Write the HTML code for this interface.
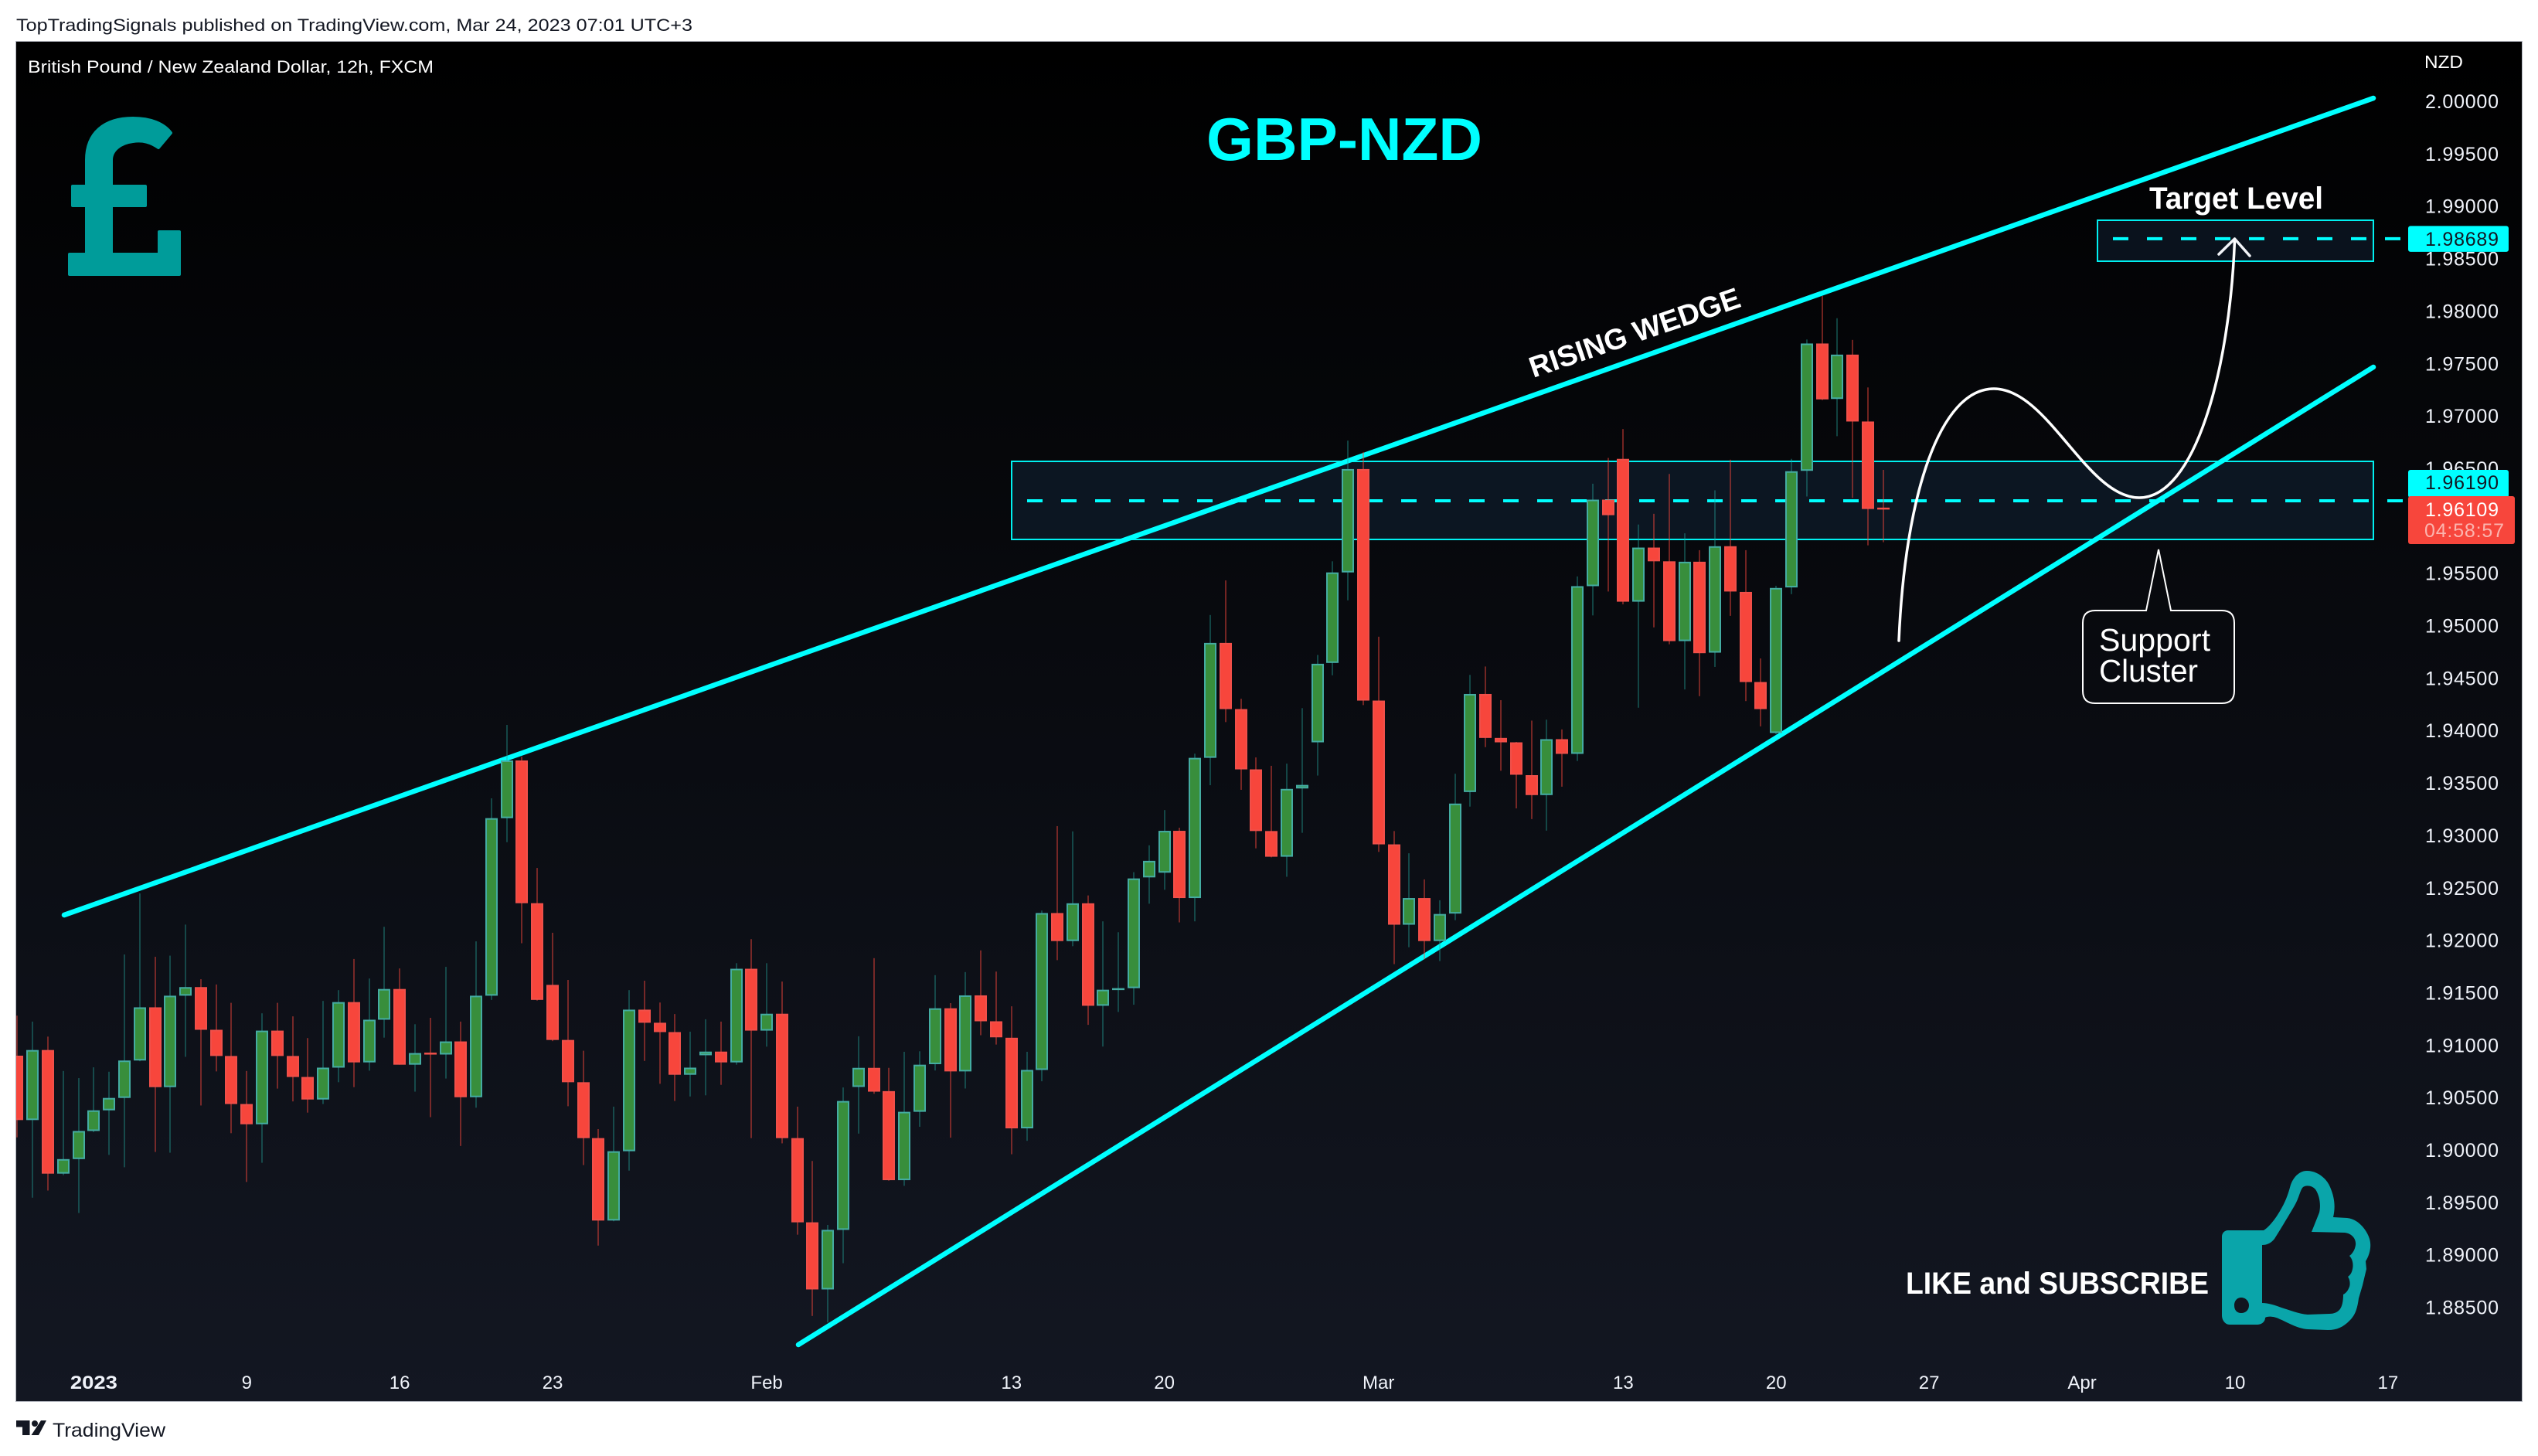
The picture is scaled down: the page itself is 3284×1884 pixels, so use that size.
<!DOCTYPE html>
<html lang="en">
<head>
<meta charset="utf-8">
<title>GBP-NZD Rising Wedge</title>
<style>
html,body{margin:0;padding:0;background:#fff;width:3284px;height:1884px;overflow:hidden}
svg{position:absolute;left:0;top:0;display:block}
text{font-family:"Liberation Sans",sans-serif}
</style>
</head>
<body>
<svg id="chart" xmlns="http://www.w3.org/2000/svg" width="3284" height="1884" viewBox="0 0 3284 1884">
  <defs>
    <linearGradient id="paneBg" x1="0" y1="0" x2="0" y2="1">
      <stop offset="0" stop-color="#000000"/>
      <stop offset="1" stop-color="#131722"/>
    </linearGradient>
    <clipPath id="plotClip"><rect x="21" y="54" width="3242" height="1759"/></clipPath>
  </defs>

  <text x="21" y="40" font-size="22" fill="#131722" textLength="875" lengthAdjust="spacingAndGlyphs">TopTradingSignals published on TradingView.com, Mar 24, 2023 07:01 UTC+3</text>

  <rect x="20.5" y="53.5" width="3243" height="1760" fill="url(#paneBg)" stroke="#b2b5be" stroke-width="1"/>

  <text x="36" y="94" font-size="22" fill="#ffffff" textLength="525" lengthAdjust="spacingAndGlyphs">British Pound / New Zealand Dollar, 12h, FXCM</text>
  <text x="1561" y="207" font-size="78" font-weight="700" fill="#00ffff" textLength="357" lengthAdjust="spacingAndGlyphs">GBP-NZD</text>

  <path fill="#009c9a" stroke="#009c9a" stroke-width="4" stroke-linejoin="round" d="M112,241 L112,207 C112,172 135,153 172,153 C195,153 212,160 221,172 L205,191 C195,184 185,181 172,183 C155,185 144,195 144,207 L144,241 L188,241 L188,266 L144,266 L144,329 L206,329 L206,300 L232,300 L232,355 L90,355 L90,329 L112,329 L112,266 L94,266 L94,241 Z"/>

  <g id="zones" clip-path="url(#plotClip)">
    <rect x="1309" y="597" width="1762" height="101" fill="#0c1622" stroke="#00f0f0" stroke-width="2"/>
    <rect x="2714" y="285" width="357" height="53" fill="#0a121d" stroke="#00f0f0" stroke-width="2"/>
  </g>
  <g id="level-lines"></g>

  <line x1="83" y1="1184" x2="3071" y2="127" stroke="#00ffff" stroke-width="6.5" stroke-linecap="round"/>
  <line x1="1033" y1="1740" x2="3071" y2="475" stroke="#00ffff" stroke-width="6.5" stroke-linecap="round"/>

  <g id="candles" clip-path="url(#plotClip)"></g>

  <path d="M2457,829 C2465,640 2510,503 2580,503 C2650,503 2700,644 2768,644 C2840,644 2885,480 2891.5,311" fill="none" stroke="#ffffff" stroke-width="3.5" stroke-linecap="round"/>
  <path d="M2871,329 L2891.5,309 L2911,331" fill="none" stroke="#f2f4f8" stroke-width="3.5" stroke-linecap="round" stroke-linejoin="round"/>

  <text transform="translate(1984 489) rotate(-18.9)" font-size="38" font-weight="700" fill="#ffffff" textLength="286" lengthAdjust="spacingAndGlyphs">RISING WEDGE</text>
  <text x="2781" y="270" font-size="40" font-weight="700" fill="#ffffff" textLength="225" lengthAdjust="spacingAndGlyphs">Target Level</text>

  <path d="M2711,790 L2777,790 L2793,711 L2809,790 L2875,790 Q2891,790 2891,806 L2891,894 Q2891,910 2875,910 L2711,910 Q2695,910 2695,894 L2695,806 Q2695,790 2711,790 Z" fill="none" stroke="#ffffff" stroke-width="2"/>
  <text x="2716" y="842" font-size="41" fill="#ffffff" textLength="144" lengthAdjust="spacingAndGlyphs">Support</text>
  <text x="2716" y="882" font-size="41" fill="#ffffff" textLength="128" lengthAdjust="spacingAndGlyphs">Cluster</text>

  <text x="2466" y="1674" font-size="40" font-weight="700" fill="#ffffff" textLength="392" lengthAdjust="spacingAndGlyphs">LIKE and SUBSCRIBE</text>
  <path fill="#0aa5aa" fill-rule="evenodd" d="M2883,1592 L2929,1592 C2940,1585 2950,1568 2955,1558 C2960,1548 2962,1540 2964,1533 C2968,1522 2976,1515 2985,1515 C2998,1515 3010,1524 3015,1536 C3021,1550 3022,1562 3019,1575 L3037,1576 C3050,1577 3062,1590 3066,1603 C3069,1613 3066,1624 3061,1632 L3062,1642 L3057,1663 L3052,1680 C3050,1695 3047,1702 3040,1709 C3032,1717 3024,1721 3012,1721 L2986,1720 C2972,1719 2960,1711 2950,1707 C2942,1703 2934,1703 2931,1705 C2931,1709 2928,1714 2920,1714 L2885,1714 C2879,1714 2875,1708 2875,1702 L2875,1600 C2875,1596 2878,1592 2883,1592 Z M2927,1611 C2934,1611 2939,1608 2943,1603 C2950,1592 2962,1572 2969,1560 C2975,1550 2976,1540 2980,1536 C2984,1533 2992,1534 2996,1539 C3002,1548 3003,1560 3001,1569 L2991,1594 L3034,1595 C3043,1596 3049,1603 3048,1611 C3047,1618 3043,1623 3040,1625 C3045,1630 3045,1638 3044,1642 C3043,1647 3041,1650 3038,1652 C3041,1656 3041,1662 3040,1665 C3038,1670 3036,1673 3032,1675 C3032,1682 3031,1688 3029,1692 C3026,1698 3020,1700 3014,1700 L2986,1701 C2974,1700 2962,1695 2952,1692 C2944,1689 2935,1686 2927,1686 Z M2900,1679 C2894,1679 2891,1684 2891,1689 C2891,1695 2894,1699 2900,1699 C2906,1699 2910,1695 2910,1689 C2910,1684 2906,1679 2900,1679 Z"/>

  <g id="price-axis"></g>
  <text x="3137" y="88" font-size="23" fill="#ffffff" textLength="50" lengthAdjust="spacingAndGlyphs">NZD</text>
  <g id="price-tags"></g>
  <g id="time-axis"></g>

  <g>
    <path fill="#131722" d="M21,1838 L38.5,1838 L38.5,1857 L29,1857 L29,1846.5 L21,1846.5 Z M53,1838 L60,1838 L50,1857 L40.5,1857 Z"/>
    <circle cx="45" cy="1842" r="4" fill="#131722"/>
    <text x="68" y="1859" font-size="25" fill="#131722" textLength="146" lengthAdjust="spacingAndGlyphs">TradingView</text>
  </g>
</svg>

<script>
var opens = [
1.90899,1.90285,1.90953,1.89774,1.89913,1.90181,1.90378,1.90496,1.90853,1.91360,
1.90599,1.91471,1.91553,1.91146,1.90896,1.90438,1.90245,1.91138,1.90896,1.90696,
1.90481,1.90785,1.91410,1.90835,1.91242,1.91535,1.90813,1.90928,1.90910,1.91035,
1.90503,1.91471,1.93164,1.93714,1.92353,1.91574,1.91049,1.90646,1.90113,1.89327,
1.89988,1.91338,1.91213,1.91124,1.90717,1.90903,1.90938,1.90835,1.91728,1.91138,
1.91299,1.90113,1.89310,1.88670,1.89238,1.90601,1.90783,1.90561,1.89712,1.90364,
1.90818,1.91351,1.90749,1.91474,1.91227,1.91070,1.90206,1.90763,1.92259,1.91992,
1.92352,1.91375,1.91528,1.91543,1.92599,1.92644,1.93043,1.92402,1.93739,1.94835,
1.94204,1.93629,1.93041,1.92796,1.93447,1.93887,1.94644,1.95507,1.96493,1.94285,
1.92914,1.92148,1.92402,1.91992,1.92254,1.93413,1.94348,1.93929,1.93887,1.93574,
1.93384,1.93917,1.93777,1.95376,1.96201,1.96590,1.95228,1.95744,1.95613,1.94852,
1.95609,1.94742,1.95757,1.95321,1.94462,1.93976,1.95364,1.96476,1.97690,1.97161,
1.97584,1.96946,1.96125];
var highs = [
1.91281,1.91224,1.91081,1.90753,1.90685,1.90788,1.90746,1.91864,1.92446,1.91842,
1.91853,1.92149,1.91628,1.91578,1.91403,1.90753,1.91303,1.91403,1.91274,1.91067,
1.91421,1.91524,1.91821,1.91635,1.92128,1.91731,1.91199,1.91260,1.91746,1.91224,
1.91989,1.93353,1.94053,1.93750,1.92689,1.92071,1.91621,1.90946,1.90199,1.90413,
1.91524,1.91614,1.91406,1.91296,1.91128,1.91246,1.91224,1.91781,1.92010,1.91781,
1.91606,1.90413,1.89895,1.89285,1.90596,1.91084,1.91829,1.90783,1.90936,1.90941,
1.91667,1.91400,1.91696,1.91903,1.91701,1.91370,1.90936,1.92283,1.93088,1.93038,
1.92427,1.92180,1.92076,1.92649,1.92905,1.93241,1.93073,1.93779,1.95101,1.95431,
1.94302,1.93743,1.93663,1.93684,1.94213,1.94720,1.95613,1.96764,1.96654,1.94894,
1.93041,1.92829,1.92580,1.92381,1.93587,1.94530,1.94610,1.94289,1.93891,1.94094,
1.94103,1.94010,1.95469,1.96353,1.96599,1.96874,1.95964,1.96066,1.96446,1.95880,
1.95719,1.96290,1.96582,1.95719,1.94687,1.95380,1.96590,1.97728,1.98143,1.97931,
1.97724,1.97271,1.96485];
var lows = [
1.90120,1.89545,1.89613,1.89760,1.89399,1.90170,1.89953,1.89835,1.90846,1.89981,
1.89974,1.90888,1.90424,1.90749,1.90160,1.89695,1.89878,1.90585,1.90463,1.90356,
1.90438,1.90646,1.90599,1.90756,1.91071,1.90813,1.90556,1.90313,1.90681,1.90038,
1.90403,1.91431,1.92935,1.91971,1.91424,1.91038,1.90417,1.89856,1.89088,1.89320,
1.89803,1.90849,1.90631,1.90467,1.90510,1.90521,1.90621,1.90813,1.90113,1.90985,
1.90063,1.89192,1.88417,1.88355,1.88920,1.90156,1.90536,1.89707,1.89658,1.90221,
1.90758,1.90117,1.90586,1.91094,1.91005,1.89959,1.90087,1.90655,1.91810,1.91943,
1.91193,1.90986,1.91316,1.91385,1.92348,1.92481,1.92170,1.92180,1.93478,1.94080,
1.93434,1.92876,1.92790,1.92605,1.93024,1.93570,1.94526,1.95241,1.94242,1.92842,
1.91772,1.91933,1.91818,1.91801,1.92191,1.93274,1.93841,1.93616,1.93257,1.93155,
1.93045,1.93464,1.93709,1.95097,1.95325,1.95203,1.94217,1.94983,1.94822,1.94391,
1.94327,1.94606,1.95093,1.94280,1.94039,1.93963,1.95300,1.96231,1.97150,1.96806,
1.96218,1.95765,1.95795];
var closes = [
1.90285,1.90953,1.89774,1.89913,1.90181,1.90378,1.90496,1.90853,1.91360,1.90599,
1.91471,1.91553,1.91146,1.90896,1.90438,1.90245,1.91138,1.90896,1.90696,1.90481,
1.90785,1.91410,1.90835,1.91242,1.91535,1.90813,1.90924,1.90910,1.91035,1.90503,
1.91471,1.93164,1.93714,1.92353,1.91431,1.91049,1.90646,1.90113,1.89327,1.89988,
1.91338,1.91213,1.91124,1.90717,1.90785,1.90938,1.90835,1.91728,1.91138,1.91299,
1.90113,1.89310,1.88670,1.89238,1.90467,1.90783,1.90556,1.89712,1.90364,1.90813,
1.91351,1.90749,1.91474,1.91227,1.91074,1.90206,1.90763,1.92259,1.91992,1.92352,
1.91375,1.91528,1.91543,1.92589,1.92757,1.93043,1.92402,1.93739,1.94835,1.94204,
1.93629,1.93041,1.92796,1.93443,1.93481,1.94636,1.95507,1.96493,1.94285,1.92914,
1.92148,1.92402,1.91992,1.92250,1.93303,1.94348,1.93929,1.93887,1.93578,1.93384,
1.93917,1.93777,1.95376,1.96201,1.96053,1.95228,1.95744,1.95613,1.94852,1.95609,
1.94737,1.95757,1.95325,1.94462,1.94204,1.95359,1.96472,1.97690,1.97157,1.97584,
1.96946,1.96112,1.96109];

var priceTicks = [2.0,1.995,1.99,1.985,1.98,1.975,1.97,1.965,1.955,1.95,1.945,1.94,1.935,1.93,1.925,1.92,1.915,1.91,1.905,1.9,1.895,1.89,1.885];
var timeLabels = ["2023","9","16","23","Feb","13","20","Mar","13","20","27","Apr","10","17"];
var timeTickBars = [5,15,25,35,49,65,75,89,105,115,125,135,145,155];
var targetLevel = 1.98689;
var clusterLevel = 1.96190;
var lastPrice = 1.96109;
var countdownLabel = "04:58:57";

var SVG_NS = "http://www.w3.org/2000/svg";
function xScale(i){ return 22.4 + 19.79 * i; }
function yScale(p){ return 131 + (2 - p) * 13570; }
function make(tag, parent){
  var el = document.createElementNS(SVG_NS, tag);
  parent.appendChild(el);
  return el;
}

var candlesGroup = document.getElementById("candles");
for (var i = 0; i < opens.length; i++) {
  var up = closes[i] >= opens[i];
  var cx = Math.round(xScale(i));
  var wick = make("rect", candlesGroup);
  
  
  wick.setAttribute("x", cx - 1);
  wick.setAttribute("y", yScale(highs[i]));
  wick.setAttribute("width", 2);
  wick.setAttribute("height", yScale(lows[i]) - yScale(highs[i]));
  wick.setAttribute("fill", up ? "rgba(38,166,154,0.38)" : "rgba(247,70,60,0.45)");

  var bodyTop = yScale(Math.max(opens[i], closes[i]));
  var bodyBottom = yScale(Math.min(opens[i], closes[i]));
  var body = make("rect", candlesGroup);
  
  
  body.setAttribute("x", cx - 7);
  body.setAttribute("y", bodyTop + 1);
  body.setAttribute("width", 14);
  body.setAttribute("height", Math.max(0.5, bodyBottom - bodyTop - 2));
  body.setAttribute("fill", up ? "#388e3c" : "#f7463c");
  body.setAttribute("stroke", up ? "#44aca2" : "#f0504a");
  body.setAttribute("stroke-width", 2);
}

var axisGroup = document.getElementById("price-axis");
priceTicks.forEach(function (p) {
  var t = make("text", axisGroup);
  
  
  t.setAttribute("x", 3138);
  t.setAttribute("y", yScale(p) + 9);
  t.setAttribute("font-size", 25);
  t.setAttribute("fill", "#f0f3fa");
  t.setAttribute("textLength", 95);
  t.setAttribute("lengthAdjust", "spacing");
  t.textContent = p.toFixed(5);
});

var timeGroup = document.getElementById("time-axis");
timeLabels.forEach(function (label, k) {
  var t = make("text", timeGroup);
  
  
  t.setAttribute("x", xScale(timeTickBars[k]));
  t.setAttribute("y", 1797);
  t.setAttribute("font-size", 24);
  t.setAttribute("text-anchor", "middle");
  t.setAttribute("fill", "#f0f3fa");
  if (label === "2023") {
    t.setAttribute("font-weight", "700");
    t.setAttribute("textLength", 61);
    t.setAttribute("lengthAdjust", "spacingAndGlyphs");
  }
  t.textContent = label;
});

var levelGroup = document.getElementById("level-lines");
var targetLine = make("line", levelGroup);


targetLine.setAttribute("x1", 2734);
targetLine.setAttribute("x2", 3110);
targetLine.setAttribute("y1", yScale(targetLevel));
targetLine.setAttribute("y2", yScale(targetLevel));
targetLine.setAttribute("stroke", "#00ffff");
targetLine.setAttribute("stroke-width", 4);
targetLine.setAttribute("stroke-dasharray", "20 24");

var clusterLine = make("line", levelGroup);


clusterLine.setAttribute("x1", 1329);
clusterLine.setAttribute("x2", 3110);
clusterLine.setAttribute("y1", yScale(clusterLevel));
clusterLine.setAttribute("y2", yScale(clusterLevel));
clusterLine.setAttribute("stroke", "#00ffff");
clusterLine.setAttribute("stroke-width", 4);
clusterLine.setAttribute("stroke-dasharray", "20 24");

var tagGroup = document.getElementById("price-tags");

var targetTag = make("rect", tagGroup);


targetTag.setAttribute("x", 3116);
targetTag.setAttribute("y", yScale(targetLevel) - 16.5);
targetTag.setAttribute("width", 130);
targetTag.setAttribute("height", 33.5);
targetTag.setAttribute("rx", 3);
targetTag.setAttribute("fill", "#00ffff");
var targetText = make("text", tagGroup);


targetText.setAttribute("x", 3138);
targetText.setAttribute("y", yScale(targetLevel) + 9);
targetText.setAttribute("font-size", 25);
targetText.setAttribute("fill", "#131722");
targetText.setAttribute("textLength", 95);
targetText.textContent = targetLevel.toFixed(5);

var clusterTag = make("rect", tagGroup);


clusterTag.setAttribute("x", 3116);
clusterTag.setAttribute("y", yScale(clusterLevel) - 40);
clusterTag.setAttribute("width", 130);
clusterTag.setAttribute("height", 36);
clusterTag.setAttribute("rx", 3);
clusterTag.setAttribute("fill", "#00ffff");
var clusterText = make("text", tagGroup);


clusterText.setAttribute("x", 3138);
clusterText.setAttribute("y", yScale(clusterLevel) - 15);
clusterText.setAttribute("font-size", 25);
clusterText.setAttribute("fill", "#131722");
clusterText.setAttribute("textLength", 95);
clusterText.textContent = clusterLevel.toFixed(5);

var lastTag = make("rect", tagGroup);


lastTag.setAttribute("x", 3116);
lastTag.setAttribute("y", yScale(lastPrice) - 17);
lastTag.setAttribute("width", 138);
lastTag.setAttribute("height", 62);
lastTag.setAttribute("rx", 3);
lastTag.setAttribute("fill", "#f7463c");
var lastText = make("text", tagGroup);


lastText.setAttribute("x", 3138);
lastText.setAttribute("y", yScale(lastPrice) + 9);
lastText.setAttribute("font-size", 25);
lastText.setAttribute("fill", "#ffffff");
lastText.setAttribute("textLength", 95);
lastText.textContent = lastPrice.toFixed(5);
var countdownText = make("text", tagGroup);


countdownText.setAttribute("x", 3137);
countdownText.setAttribute("y", yScale(lastPrice) + 36);
countdownText.setAttribute("font-size", 25);
countdownText.setAttribute("fill", "#fbb4ae");
countdownText.setAttribute("textLength", 103);
countdownText.textContent = countdownLabel;
</script>
</body>
</html>
